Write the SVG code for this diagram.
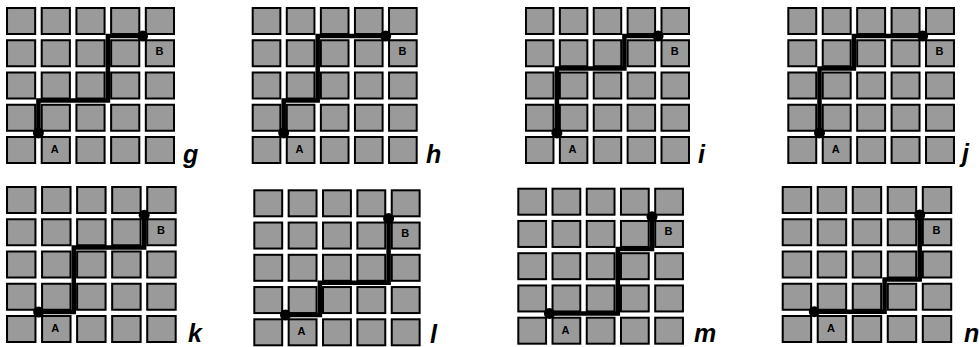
<svg xmlns="http://www.w3.org/2000/svg" xmlns:xlink="http://www.w3.org/1999/xlink" width="979" height="347" viewBox="0 0 979 347">
<style>
.sq{fill:#9a9a9a;stroke:#000;stroke-width:2}
.pt{fill:none;stroke:#000;stroke-width:4.5;stroke-linejoin:miter;stroke-linecap:butt}
.dot{fill:#000}
.ab{font-family:"Liberation Sans",Arial,sans-serif;font-weight:bold;font-size:11px;text-anchor:middle;fill:#000}
.lb{font-family:"Liberation Sans",Arial,sans-serif;font-weight:bold;font-style:italic;font-size:25px;fill:#000}
</style>
<defs>
<g id="row">
<rect class="sq" x="1" y="1" width="28" height="26"/>
<rect class="sq" x="35.5" y="1" width="28" height="26"/>
<rect class="sq" x="70" y="1" width="28" height="26"/>
<rect class="sq" x="104.5" y="1" width="28" height="26"/>
<rect class="sq" x="139" y="1" width="28" height="26"/>
</g>
<g id="grid">
<use xlink:href="#row" y="0"/>
<use xlink:href="#row" y="32.25"/>
<use xlink:href="#row" y="64.5"/>
<use xlink:href="#row" y="96.75"/>
<use xlink:href="#row" y="129"/>
</g>
</defs>

<g id="panel-g">
<use xlink:href="#grid" transform="translate(6,7) scale(1.006,1)"/>
<text class="ab" x="54.8" y="153">A</text>
<text class="ab" x="159.4" y="54.5">B</text>
<text class="lb" x="183" y="162.5">g</text>
</g>
<g id="panel-h">
<use xlink:href="#grid" transform="translate(251.7,7) scale(0.988,1)"/>
<text class="ab" x="299.6" y="153">A</text>
<text class="ab" x="402.4" y="54.5">B</text>
<text class="lb" x="426" y="163">h</text>
</g>
<g id="panel-i">
<use xlink:href="#grid" transform="translate(525,7) scale(0.982,1)"/>
<text class="ab" x="572.6" y="153">A</text>
<text class="ab" x="674.8" y="54.5">B</text>
<text class="lb" x="698" y="163">i</text>
</g>
<g id="panel-j">
<use xlink:href="#grid" transform="translate(787.3,7) scale(0.998,1)"/>
<text class="ab" x="835.7" y="153">A</text>
<text class="ab" x="939.5" y="54.5">B</text>
<text class="lb" x="962" y="162">j</text>
</g>
<g id="panel-k">
<use xlink:href="#grid" transform="translate(6,186) scale(1.016,1)"/>
<text class="ab" x="55.3" y="332">A</text>
<text class="ab" x="160.9" y="233.5">B</text>
<text class="lb" x="188" y="342">k</text>
</g>
<g id="panel-l">
<use xlink:href="#grid" transform="translate(253.3,189.3) scale(0.996,1)"/>
<text class="ab" x="301.6" y="335.3">A</text>
<text class="ab" x="405.2" y="236.8">B</text>
<text class="lb" x="430" y="343">l</text>
</g>
<g id="panel-m">
<use xlink:href="#grid" transform="translate(517.3,187.7) scale(0.992,1)"/>
<text class="ab" x="565.4" y="333.7">A</text>
<text class="ab" x="668.6" y="235.2">B</text>
<text class="lb" x="694" y="342">m</text>
</g>
<g id="panel-n">
<use xlink:href="#grid" transform="translate(781.7,186) scale(1.015,1)"/>
<text class="ab" x="830.9" y="332">A</text>
<text class="ab" x="936.5" y="233.5">B</text>
<text class="lb" x="964" y="342">n</text>
</g>

<g id="connectors">
<path class="pt" d="M38.4 132.9 V100.6 H107.9 V36.1 H142.6"/>
<path class="pt" d="M283.7 132.9 V100.6 H317.7 V36.1 H385.7"/>
<path class="pt" d="M556.9 132.9 V68.4 H624.4 V36.1 H658.1"/>
<path class="pt" d="M819.5 132.9 V68.4 H853.9 V36.1 H922.7"/>
<path class="pt" d="M38.6 312.1 H73.8 V247.5 H144.2 V215.2"/>
<path class="pt" d="M285.5 315 H319.9 V282.8 H388.6 V218.4"/>
<path class="pt" d="M549.4 313.4 H617.8 V249 H652 V216.8"/>
<path class="pt" d="M814.3 311.7 H884.6 V279.5 H919.7 V215.1"/>
<g class="dot">
<circle cx="38.4" cy="132.9" r="5.5"/><circle cx="142.6" cy="36.1" r="5.5"/>
<circle cx="283.7" cy="132.9" r="5.5"/><circle cx="385.7" cy="36.1" r="5.5"/>
<circle cx="556.9" cy="132.9" r="5.5"/><circle cx="658.1" cy="36.1" r="5.5"/>
<circle cx="819.5" cy="132.9" r="5.5"/><circle cx="922.7" cy="36.1" r="5.5"/>
<circle cx="38.6" cy="312.1" r="5.5"/><circle cx="144.2" cy="215.2" r="5.5"/>
<circle cx="285.5" cy="315" r="5.5"/><circle cx="388.6" cy="218.4" r="5.5"/>
<circle cx="549.4" cy="313.4" r="5.5"/><circle cx="652" cy="216.8" r="5.5"/>
<circle cx="814.3" cy="311.7" r="5.5"/><circle cx="919.7" cy="215.1" r="5.5"/>
</g>
</g>
</svg>
